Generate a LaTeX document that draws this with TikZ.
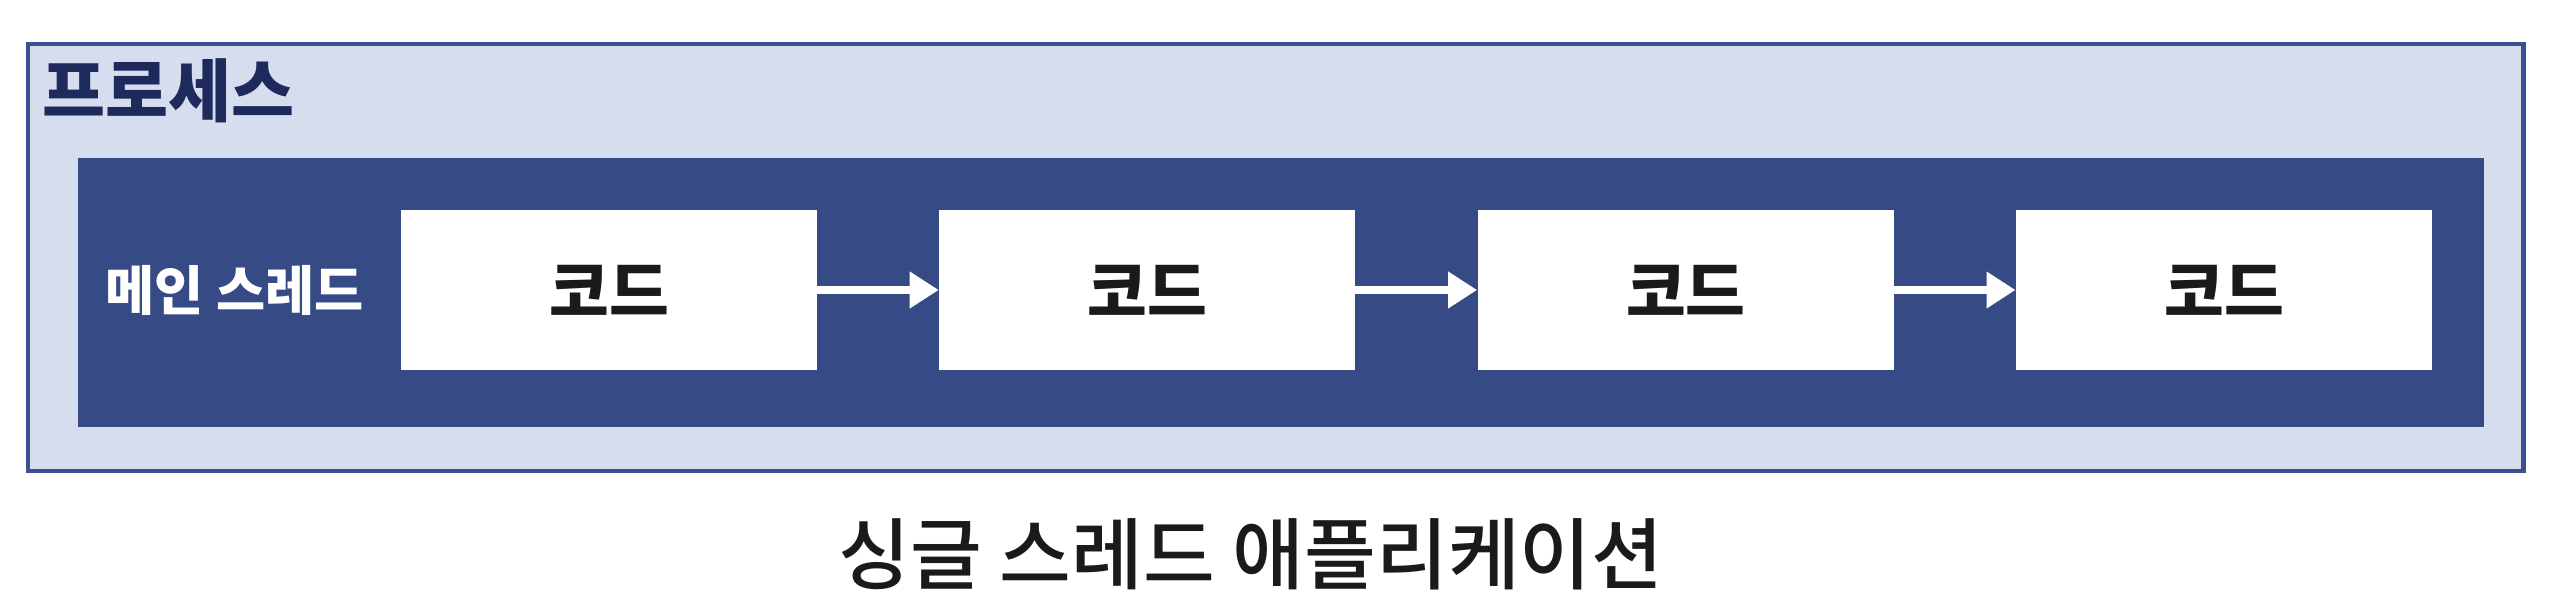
\documentclass[tikz,border=0pt]{standalone}
\usepackage{fontspec}
\usepackage{xcolor}
\usepackage{tikz}
\usetikzlibrary{positioning,arrows.meta}
\newfontfamily\kr{Noto Sans CJK KR}
\newfontfamily\krm[UprightFont=* Medium]{Noto Sans CJK KR}
\definecolor{edge}{HTML}{3A5091}
\definecolor{pale}{HTML}{D6DDEE}
\definecolor{navy}{HTML}{364A86}
\definecolor{ink}{HTML}{1F2A5C}
\definecolor{txt}{HTML}{1A1A1A}
\tikzset{
  procbox/.style={draw=edge, fill=pale, line width=1.4pt, inner sep=0pt},
  threadbox/.style={fill=navy, inner sep=0pt},
  codebox/.style={fill=white, inner sep=0pt, minimum width=4.16cm, minimum height=1.60cm, font=\kr\bfseries\fontsize{18.5}{21}\selectfont, text=txt},
  flow/.style={draw=white, line width=2.5pt, -{Triangle[length=0.29cm,width=0.35cm]}, shorten <=-0.5pt},
  lab/.style={inner sep=0pt},
}
\begin{document}
\begin{tikzpicture}
  \useasboundingbox (0,0) rectangle (25.58,6.06);
  \node[procbox, minimum width=24.95cm, minimum height=4.27cm] (proc) at (12.755,3.485) {};
  \node[threadbox, minimum width=24.06cm, minimum height=2.69cm] (thread) at (12.81,3.135) {};
  \node[lab, anchor=west, text=ink, font=\kr\bfseries\fontsize{19.5}{22}\selectfont] (proclab) at (0.42,5.15) {프로세스};

  \node[codebox] (c1) at (6.09,3.16) {코드};
  \node[codebox, right=1.21cm of c1] (c2) {코드};
  \node[codebox, right=1.21cm of c2] (c3) {코드};
  \node[codebox, right=1.21cm of c3] (c4) {코드};
  \node[lab, left=0.36cm of c1, text=white, font=\kr\bfseries\fontsize{15.2}{17}\selectfont] (main) {메인 스레드};

  \foreach \a/\b in {c1/c2,c2/c3,c3/c4}
    \draw[flow] (\a) -- (\b);

  \node[lab, text=txt, font=\krm\fontsize{22.2}{25}\selectfont] (title) at (12.51,0.52) {싱글 스레드 애플리케이션};
\end{tikzpicture}
\end{document}
